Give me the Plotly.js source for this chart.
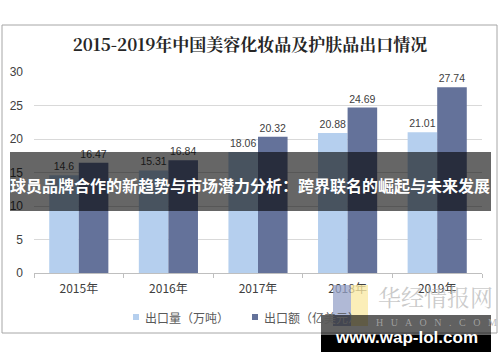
<!DOCTYPE html>
<html>
<head>
<meta charset="utf-8">
<script src="https://cdn.plot.ly/plotly-3.0.1.min.js"></script>
<style>html,body{margin:0;padding:0;background:#fff;}#chart{width:500px;height:362px;}</style>
</head>
<body>
<div id="chart"></div>
<script>
const categories = ["2015年", "2016年", "2017年", "2018年", "2019年"];
const volume = [14.6, 15.31, 18.06, 20.88, 21.01];   // 出口量（万吨）
const value = [16.47, 16.84, 20.32, 24.69, 27.74];   // 出口额（亿美元）
const seriesNames = ["出口量（万吨）", "出口额（亿美元）"];
const yTicks = [0, 5, 10, 15, 20, 25, 30];

const colLight = "#b5cfee";
const colDark = "#64729a";
const seriesColors = [colLight, colDark];

// plot area in pixels
const L = 34, R = 482, T = 72, B = 273;
const px = x => (x - L) / (R - L);
const py = y => (B - y) / (B - T);

const labelFont = {family: "Liberation Sans, Arial, sans-serif", size: 10.5, color: "#404040"};

const traces = [
  {type: "bar", x: categories, y: volume, name: seriesNames[0], marker: {color: colLight},
   text: volume.map(String), textposition: "outside", textfont: labelFont, cliponaxis: false,
   hoverinfo: "skip"},
  {type: "bar", x: categories, y: value, name: seriesNames[1], marker: {color: colDark},
   text: value.map(String), textposition: "outside", textfont: labelFont, cliponaxis: false,
   hoverinfo: "skip"}
];

const cjk = "Noto Sans CJK SC, sans-serif";

// legend drawn as small squares + labels (reference has tight marker/text spacing)
const legendMarkerX = [136, 255];
const legendTextX = [143, 262];
const legendY = 317;
const legendShapes = seriesNames.map((n, i) => ({
  type: "rect", xref: "paper", yref: "paper",
  x0: px(legendMarkerX[i] - 3), x1: px(legendMarkerX[i] + 3),
  y0: py(legendY - 3), y1: py(legendY + 3),
  line: {width: 0}, fillcolor: seriesColors[i], layer: "below"
}));
const legendLabels = seriesNames.map((n, i) => ({
  text: n, xref: "paper", yref: "paper", x: px(legendTextX[i]), y: py(legendY),
  xanchor: "left", yanchor: "middle", showarrow: false,
  font: {family: cjk, size: 12, color: "#595959"}
}));

const nb = "\u00a0\u00a0 ";

const layout = {
  width: 500, height: 362,
  margin: {l: L, r: 500 - R, t: T, b: 362 - B, pad: 0},
  paper_bgcolor: "#ffffff", plot_bgcolor: "#ffffff",
  barmode: "group", bargap: 0.34, bargroupgap: 0,
  showlegend: false,
  title: {text: "<b>2015-2019年中国美容化妆品及护肤品出口情况</b>", x: 0.5, xref: "container",
          y: 1 - 45 / 362, yref: "container", xanchor: "center", yanchor: "middle",
          font: {family: "Noto Serif CJK SC, " + cjk, size: 17, color: "#262626"}},
  xaxis: {type: "category", tickfont: {family: cjk, size: 12, color: "#404040"},
          showline: true, linecolor: "#bfbfbf", linewidth: 1,
          ticks: "outside", tickson: "boundaries", ticklen: 4, tickcolor: "#bfbfbf",
          ticklabelstandoff: 5, showgrid: false, fixedrange: true},
  yaxis: {range: [0, 30], tickvals: yTicks, ticktext: yTicks.map(String),
          tickfont: {family: "Liberation Sans, Arial, sans-serif", size: 12, color: "#404040"},
          showgrid: true, gridcolor: "#d9d9d9", gridwidth: 1, zeroline: false,
          showline: false, ticks: "", ticklabelstandoff: 10, fixedrange: true},
  shapes: [
    // outer frame
    {type: "rect", xref: "paper", yref: "paper", x0: px(2), x1: px(497), y0: py(25), y1: py(333),
     line: {color: "#a6a6a6", width: 1}, fillcolor: "rgba(0,0,0,0)", layer: "below"},
    ...legendShapes,
    // logo squares
    {type: "rect", xref: "paper", yref: "paper", x0: px(333), x1: px(351), y0: py(285), y1: py(326),
     line: {width: 0}, fillcolor: "rgba(150,162,200,0.75)"},
    {type: "rect", xref: "paper", yref: "paper", x0: px(351), x1: px(368), y0: py(285), y1: py(326),
     line: {width: 0}, fillcolor: "rgba(250,232,160,0.75)"},
    // banner
    {type: "rect", xref: "paper", yref: "paper", x0: px(10), x1: px(491), y0: py(152), y1: py(211),
     line: {width: 0}, fillcolor: "rgba(0,0,0,0.6)"},
    // url box
    {type: "rect", xref: "paper", yref: "paper", x0: px(321), x1: px(491), y0: py(315), y1: py(352),
     line: {width: 0}, fillcolor: "rgba(0,0,0,0.62)"},
    {type: "rect", xref: "paper", yref: "paper", x0: px(321), x1: px(491), y0: py(335), y1: py(352),
     line: {width: 0}, fillcolor: "#000000"}
  ],
  annotations: [
    ...legendLabels,
    {text: "华经情报网", xref: "paper", yref: "paper", x: px(435), y: py(296), showarrow: false,
     xanchor: "center", yanchor: "middle",
     font: {family: "Noto Serif CJK SC, " + cjk, size: 23, color: "rgba(185,185,185,0.75)"}},
    {text: ["H","U","A","O","N",".","C","O","M"].join(nb), xref: "paper", yref: "paper",
     x: px(436), y: py(322.5), showarrow: false, xanchor: "center", yanchor: "middle",
     font: {family: "Liberation Serif, serif", size: 10, color: "rgba(170,170,170,0.85)"}},
    {text: "<b>球员品牌合作的新趋势与市场潜力分析：跨界联名的崛起与未来发展</b>", xref: "paper", yref: "paper",
     x: px(250), y: py(185), showarrow: false, xanchor: "center", yanchor: "middle",
     font: {family: cjk, size: 16, color: "#ffffff"}},
    {text: "<b>www.wap-lol.com</b>", xref: "paper", yref: "paper", x: px(406), y: py(337),
     showarrow: false, xanchor: "center", yanchor: "middle",
     font: {family: "Liberation Sans, Arial, sans-serif", size: 17, color: "#ffffff"}}
  ]
};

Plotly.newPlot("chart", traces, layout, {staticPlot: true, displayModeBar: false});
</script>
</body>
</html>
